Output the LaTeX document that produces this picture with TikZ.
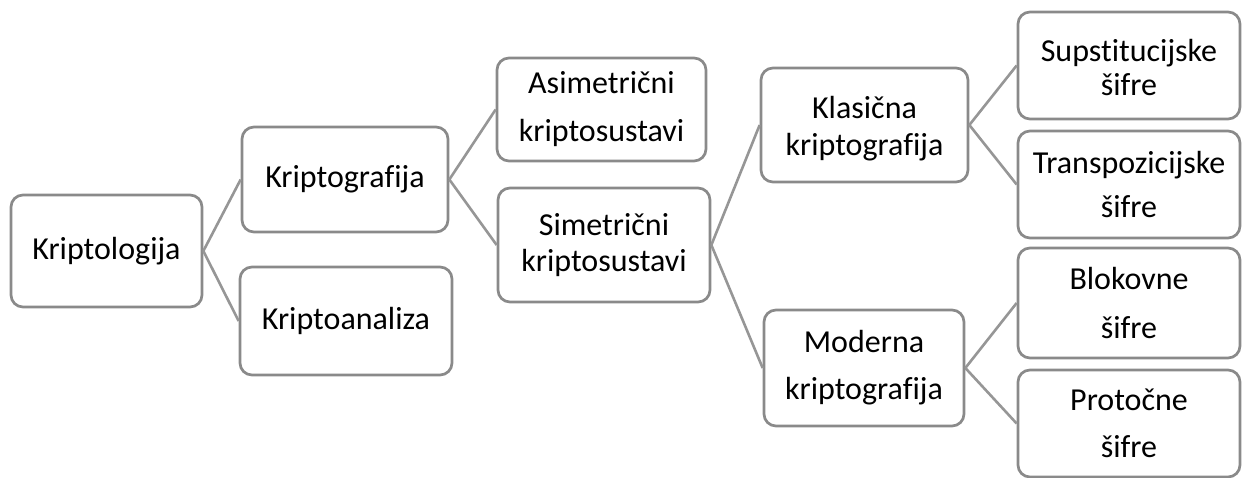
\documentclass[tikz,border=0pt]{standalone}
\usepackage{fontspec}
\setmainfont{Carlito}[Ligatures={NoCommon}]
\definecolor{boxline}{RGB}{138,138,138}
\definecolor{conline}{RGB}{150,150,150}
\newcommand{\bfs}[1]{\fontsize{16}{#1}\selectfont}
\tikzset{
  box/.style={draw=boxline, line width=1.35pt, rounded corners=6pt, fill=white,
    inner sep=0pt, align=center, text=black},
  con/.style={draw=conline, line width=1.3pt}
}
\begin{document}
\begin{tikzpicture}[x=0.5pt,y=-0.5pt]
\useasboundingbox (0,0) rectangle (1242,477);
\node[box, minimum width=95.5pt, minimum height=56pt, font=\bfs{19}] (A) at (106.5,251) {Kriptologija};
\node[box, minimum width=103pt, minimum height=52.5pt, font=\bfs{19}] (B) at (345,179.5) {Kriptografija};
\node[box, minimum width=106pt, minimum height=54pt, font=\bfs{19}] (C) at (346,321) {Kriptoanaliza};
\node[box, minimum width=104.5pt, minimum height=51.5pt, font=\bfs{24}] (D) at (601.5,109.5) {Asimetrični\\kriptosustavi};
\node[box, minimum width=106pt, minimum height=57pt, font=\bfs{18}] (E) at (604,245) {Simetrični\\kriptosustavi};
\node[box, minimum width=103.5pt, minimum height=57pt, font=\bfs{18.5}] (F) at (864.5,125) {\rule{0pt}{15pt}Klasična\\kriptografija};
\node[box, minimum width=100pt, minimum height=58pt, font=\bfs{23.5}] (G) at (864,368) {Moderna\\kriptografija};
\node[box, minimum width=111pt, minimum height=53.5pt, font=\bfs{17}] (H) at (1129,65.5) {\rule{0pt}{13pt}Supstitucijske\\šifre};
\node[box, minimum width=111pt, minimum height=53.5pt, font=\bfs{22}] (I) at (1129,184.5) {Transpozicijske\\šifre};
\node[box, minimum width=111pt, minimum height=55pt, font=\bfs{24.5}] (J) at (1129,303) {Blokovne\\šifre};
\node[box, minimum width=111pt, minimum height=53.5pt, font=\bfs{23.5}] (K) at (1129,423.5) {Protočne\\šifre};
\draw[con] (A.east) -- (B.west);
\draw[con] (A.east) -- (C.west);
\draw[con] (B.east) -- (D.west);
\draw[con] (B.east) -- (E.west);
\draw[con] (E.east) -- (F.west);
\draw[con] (E.east) -- (G.west);
\draw[con] (F.east) -- (H.west);
\draw[con] (F.east) -- (I.west);
\draw[con] (G.east) -- (J.west);
\draw[con] (G.east) -- (K.west);
\end{tikzpicture}
\end{document}
